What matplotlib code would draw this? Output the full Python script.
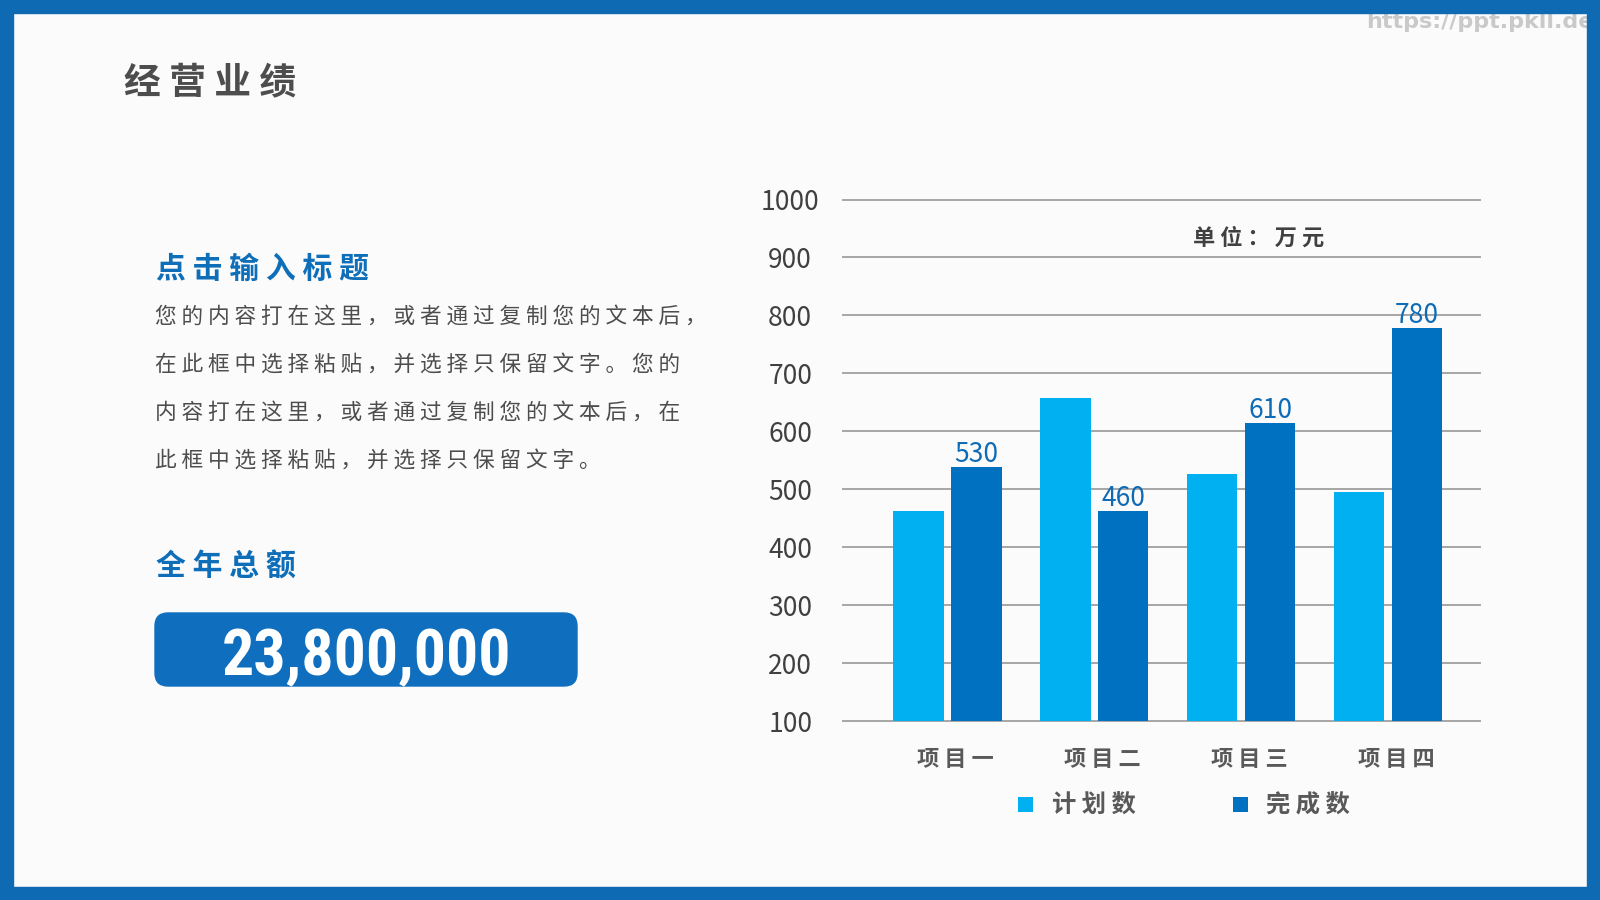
import matplotlib
matplotlib.use('Agg')
import matplotlib.pyplot as plt
from matplotlib.patches import Rectangle, FancyBboxPatch, Patch
from matplotlib import font_manager
from matplotlib.transforms import ScaledTranslation
import numpy as np

plt.rcParams['font.family'] = ['Noto Sans CJK SC', 'DejaVu Sans']

# chart data
categories = ['项目一', '项目二', '项目三', '项目四']
series_names = ['计划数', '完成数']
planned = [463, 658, 527, 495]
completed = [539, 463, 615, 779]
completed_labels = ['530', '460', '610', '780']
y_ticks = [100, 200, 300, 400, 500, 600, 700, 800, 900, 1000]

# slide text
title = '经营业绩'
heading = '点击输入标题'
paragraph = [
    '您的内容打在这里，或者通过复制您的文本后，',
    '在此框中选择粘贴，并选择只保留文字。您的',
    '内容打在这里，或者通过复制您的文本后，在',
    '此框中选择粘贴，并选择只保留文字。',
]
total_title = '全年总额'
total_value = '23,800,000'

blue = '#0F6AB4'
light = '#00B0F0'
dark = '#0070C0'

W, H = 1600, 900


def fx(x):
    return x / W


def fy(y):
    return 1 - y / H


def sp(s):
    # wide letter spacing like the slide
    return ' '.join(s)


fig = plt.figure(figsize=(16, 9), dpi=100, facecolor='#FBFBFC')

# blue frame
b = 13
for x0, y0, w, h in [(0, 0, W, b), (0, H - b, W, b), (0, 0, b, H), (W - b, 0, b, H)]:
    fig.add_artist(Rectangle((x0 / W, 1 - (y0 + h) / H), w / W, h / H,
                             transform=fig.transFigure, color=blue, zorder=10))

fig.text(fx(1366), fy(22), 'https://ppt.pkll.de', fontsize=16, color='#C9C9C9',
         fontweight='bold', family='DejaVu Sans', va='center', zorder=1)

# left side text
fig.text(fx(124), fy(83), sp(title), fontsize=26.5, weight='bold',
         color='#4D4D4D', va='center')
fig.text(fx(156), fy(269), sp(heading), fontsize=21.5, weight='bold',
         color='#0E6EB8', va='center')
for i, line in enumerate(paragraph):
    fig.text(fx(155), fy(317 + i * 48), sp(line), fontsize=15.6,
             color='#4D4D4D', va='center')
fig.text(fx(156), fy(567), sp(total_title), fontsize=21.5, weight='bold',
         color='#0E6EB8', va='center')

fig.add_artist(FancyBboxPatch((1.55, (H - 686) / 100), 4.22, 0.73,
                              boxstyle='round,pad=0,rounding_size=0.13',
                              transform=fig.dpi_scale_trans,
                              color='#0F6FBE', zorder=2))

names = {f.name for f in font_manager.fontManager.ttflist}
num_family = next((n for n in ['Liberation Sans Narrow', 'Roboto Condensed']
                   if n in names), 'DejaVu Sans')
fig.text(fx(366), fy(675), total_value, color='white', fontsize=46,
         weight='bold', family=num_family, stretch='condensed',
         ha='center', va='baseline', zorder=3)

# bar chart
ax = fig.add_axes([fx(843), fy(721), (1480 - 843) / W, (721 - 199.5) / H])
ax.patch.set_alpha(0)
x = np.arange(len(categories))
off, bw = 0.197, 0.344
ax.bar(x - off, planned, bw, color=light, zorder=3, label=series_names[0])
ax.bar(x + off, completed, bw, color=dark, zorder=3, label=series_names[1])
for xi, v, lab in zip(x, completed, completed_labels):
    ax.annotate(lab, (xi + off, v), xytext=(0, 3.5), textcoords='offset points',
                ha='center', va='baseline', fontsize=19, color='#0E6BB5', zorder=4)

ax.set_xlim(-0.710, 3.626)
ax.set_ylim(100, 1000)
ax.set_yticks(y_ticks)
ax.set_yticklabels([str(t) for t in y_ticks], fontsize=19, color='#404040')
for lbl in ax.get_yticklabels():
    lbl.set_ha('center')
ax.tick_params(axis='y', length=0, pad=38)
ax.set_xticks(x)
ax.set_xticklabels([sp(c) for c in categories], fontsize=16, weight='bold',
                   color='#595959')
ax.tick_params(axis='x', length=0, pad=19.5)
shift = ScaledTranslation(8 / 100, 0, fig.dpi_scale_trans)
for lbl in ax.get_xticklabels():
    lbl.set_transform(lbl.get_transform() + shift)
for s in ax.spines.values():
    s.set_visible(False)
ax.grid(axis='y', color='#A6A6A6', lw=1.4, zorder=0)
ax.grid(axis='x', visible=False)
for gl in ax.get_ygridlines():
    gl.set_clip_on(False)

fig.text(fx(1259), fy(238.5), '单 位 ： 万 元', ha='center', va='center',
         fontsize=16, weight='bold', color='#404040')

handles = [Patch(facecolor=light), Patch(facecolor=dark)]
fig.legend(handles, [sp(n) for n in series_names], loc='center',
           bbox_to_anchor=(fx(1184), fy(806)), ncol=2, frameon=False,
           prop={'weight': 'bold', 'size': 17.5}, labelcolor='#595959',
           handlelength=0.62, handleheight=0.62, handletextpad=0.75,
           columnspacing=4.0)

fig.savefig('out.png', dpi=100, facecolor=fig.get_facecolor())
